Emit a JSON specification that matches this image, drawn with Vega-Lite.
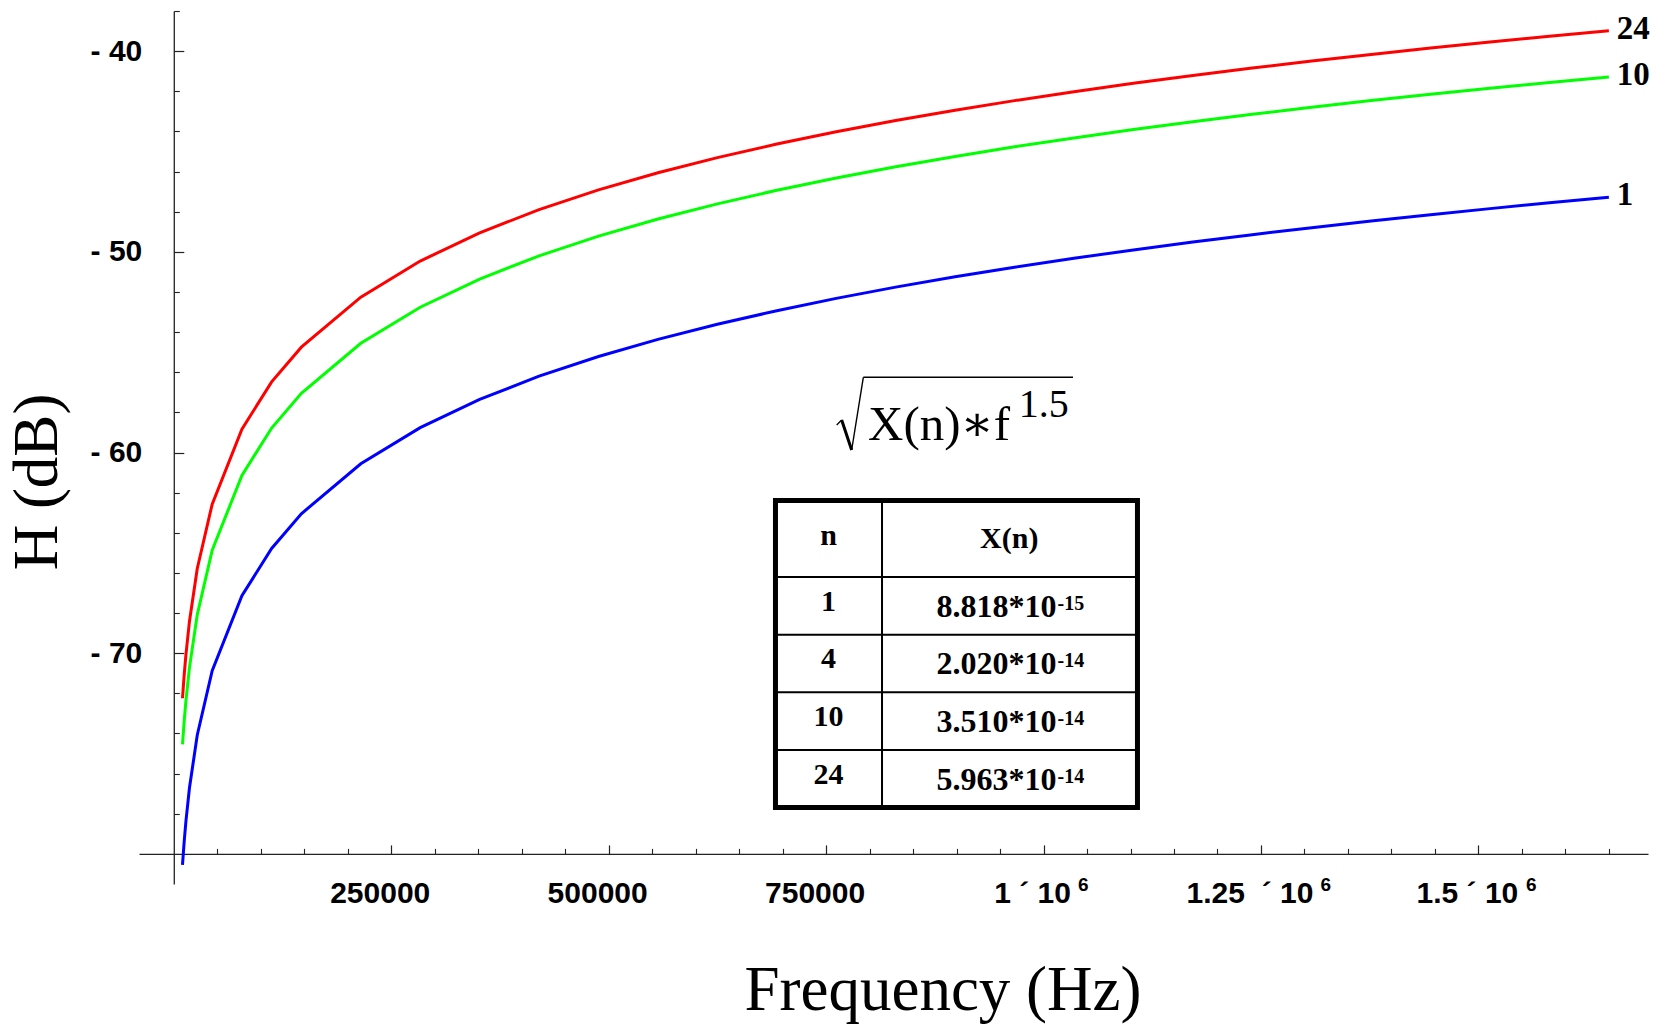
{
  "$schema": "https://vega.github.io/schema/vega-lite/v6.json",
  "width": 1509,
  "height": 873,
  "autosize": {"type": "none"},
  "padding": {"left": 139, "top": 11, "right": 17, "bottom": 142},
  "background": "white",
  "config": {"view": {"stroke": null}, "axis": {"grid": false}},
  "datasets": {
    "curves": [
      {"n":"1","f":10000,"H":-80.546},{"n":"1","f":12000,"H":-79.358},{"n":"1","f":14000,"H":-78.354},{"n":"1","f":18000,"H":-76.717},{"n":"1","f":27000,"H":-74.076},{"n":"1","f":44167,"H":-70.870},{"n":"1","f":78333,"H":-67.137},{"n":"1","f":112500,"H":-64.779},{"n":"1","f":146667,"H":-63.051},{"n":"1","f":215000,"H":-60.559},{"n":"1","f":283333,"H":-58.761},{"n":"1","f":351667,"H":-57.354},{"n":"1","f":420000,"H":-56.197},{"n":"1","f":488333,"H":-55.215},{"n":"1","f":556667,"H":-54.362},{"n":"1","f":625000,"H":-53.608},{"n":"1","f":693333,"H":-52.932},{"n":"1","f":761667,"H":-52.320},{"n":"1","f":830000,"H":-51.760},{"n":"1","f":898333,"H":-51.244},{"n":"1","f":966667,"H":-50.767},{"n":"1","f":1035000,"H":-50.322},{"n":"1","f":1103333,"H":-49.905},{"n":"1","f":1171667,"H":-49.514},{"n":"1","f":1240000,"H":-49.145},{"n":"1","f":1308333,"H":-48.795},{"n":"1","f":1376667,"H":-48.464},{"n":"1","f":1445000,"H":-48.148},{"n":"1","f":1513333,"H":-47.847},{"n":"1","f":1581667,"H":-47.559},{"n":"1","f":1650000,"H":-47.284},
      {"n":"10","f":10000,"H":-74.547},{"n":"10","f":12000,"H":-73.359},{"n":"10","f":14000,"H":-72.355},{"n":"10","f":18000,"H":-70.718},{"n":"10","f":27000,"H":-68.077},{"n":"10","f":44167,"H":-64.871},{"n":"10","f":78333,"H":-61.138},{"n":"10","f":112500,"H":-58.780},{"n":"10","f":146667,"H":-57.052},{"n":"10","f":215000,"H":-54.560},{"n":"10","f":283333,"H":-52.762},{"n":"10","f":351667,"H":-51.355},{"n":"10","f":420000,"H":-50.198},{"n":"10","f":488333,"H":-49.216},{"n":"10","f":556667,"H":-48.363},{"n":"10","f":625000,"H":-47.609},{"n":"10","f":693333,"H":-46.933},{"n":"10","f":761667,"H":-46.321},{"n":"10","f":830000,"H":-45.761},{"n":"10","f":898333,"H":-45.245},{"n":"10","f":966667,"H":-44.768},{"n":"10","f":1035000,"H":-44.323},{"n":"10","f":1103333,"H":-43.906},{"n":"10","f":1171667,"H":-43.515},{"n":"10","f":1240000,"H":-43.146},{"n":"10","f":1308333,"H":-42.796},{"n":"10","f":1376667,"H":-42.465},{"n":"10","f":1445000,"H":-42.149},{"n":"10","f":1513333,"H":-41.848},{"n":"10","f":1581667,"H":-41.560},{"n":"10","f":1650000,"H":-41.285},
      {"n":"24","f":10000,"H":-72.245},{"n":"24","f":12000,"H":-71.057},{"n":"24","f":14000,"H":-70.053},{"n":"24","f":18000,"H":-68.416},{"n":"24","f":27000,"H":-65.775},{"n":"24","f":44167,"H":-62.569},{"n":"24","f":78333,"H":-58.836},{"n":"24","f":112500,"H":-56.478},{"n":"24","f":146667,"H":-54.750},{"n":"24","f":215000,"H":-52.258},{"n":"24","f":283333,"H":-50.460},{"n":"24","f":351667,"H":-49.053},{"n":"24","f":420000,"H":-47.896},{"n":"24","f":488333,"H":-46.914},{"n":"24","f":556667,"H":-46.061},{"n":"24","f":625000,"H":-45.307},{"n":"24","f":693333,"H":-44.631},{"n":"24","f":761667,"H":-44.019},{"n":"24","f":830000,"H":-43.459},{"n":"24","f":898333,"H":-42.943},{"n":"24","f":966667,"H":-42.466},{"n":"24","f":1035000,"H":-42.021},{"n":"24","f":1103333,"H":-41.604},{"n":"24","f":1171667,"H":-41.213},{"n":"24","f":1240000,"H":-40.844},{"n":"24","f":1308333,"H":-40.494},{"n":"24","f":1376667,"H":-40.163},{"n":"24","f":1445000,"H":-39.847},{"n":"24","f":1513333,"H":-39.546},{"n":"24","f":1581667,"H":-39.258},{"n":"24","f":1650000,"H":-38.983}
    ],
    "table": [
      {"n":"1","xn":"8.818*10","e":"-15"},
      {"n":"4","xn":"2.020*10","e":"-14"},
      {"n":"10","xn":"3.510*10","e":"-14"},
      {"n":"24","xn":"5.963*10","e":"-14"}
    ]
  },
  "layer": [
    {
      "data": {"name": "curves"},
      "layer": [
        {
          "mark": {"type": "line", "strokeWidth": 3},
          "encoding": {
            "x": {"field": "f", "type": "quantitative",
              "scale": {"domain": [-40000, 1695000], "nice": false, "zero": false},
              "axis": {"orient": "bottom", "offset": -30.1, "values": [250000, 500000, 750000, 1000000, 1250000, 1500000],
                "labelExpr": "datum.value == 1000000 ? '1 ´ 10' : datum.value == 1250000 ? '1.25\u00a0 ´ 10' : datum.value == 1500000 ? '1.5 ´ 10' : format(datum.value, 'd')",
                "labelOffset": -11.5,
                "ticks": false, "domain": true, "domainColor": "#222", "domainWidth": 1.3,
                "labelFont": "Liberation Sans", "labelFontWeight": "bold", "labelFontSize": 30, "labelColor": "black",
                "labelPadding": 25, "labelOverlap": false, "labelFlush": false, "labelBound": false,
                "title": "Frequency (Hz)", "titleFont": "Liberation Serif", "titleFontWeight": "normal", "titleFontSize": 63, "titleColor": "black",
                "titleX": 803.5, "titleY": 155.8, "titleAlign": "center", "titleBaseline": "alphabetic", "titleAnchor": null}},
            "y": {"field": "H", "type": "quantitative",
              "scale": {"domain": [-81.5, -38], "nice": false, "zero": false},
              "axis": {"orient": "left", "offset": -34.79, "values": [-40, -50, -60, -70],
                "labelExpr": "'- ' + format(abs(datum.value), 'd')",
                "ticks": false, "domain": true, "domainColor": "#222", "domainWidth": 1.3,
                "labelFont": "Liberation Sans", "labelFontWeight": "bold", "labelFontSize": 30, "labelColor": "black",
                "labelAlign": "right", "labelBaseline": "middle", "labelPadding": 32, "labelOverlap": false, "labelFlush": false, "labelBound": false,
                "title": "H (dB)", "titleFont": "Liberation Serif", "titleFontWeight": "normal", "titleFontSize": 63, "titleColor": "black",
                "titleX": -116.8, "titleY": 470.5, "titleAngle": 270, "titleAlign": "center", "titleBaseline": "alphabetic", "titleAnchor": null}},
            "color": {"field": "n", "type": "nominal",
              "scale": {"domain": ["24", "10", "1"], "range": ["#ff0000", "#00ff00", "#0000ff"]}, "legend": null}
          }
        },
        {
          "transform": [{"filter": "datum.f == 1650000"}],
          "mark": {"type": "text", "font": "Liberation Serif", "fontWeight": "bold", "fontSize": 33, "align": "left", "baseline": "middle", "dx": 8, "dy": -2, "color": "black"},
          "encoding": {
            "x": {"field": "f", "type": "quantitative",
              "axis": {"orient": "bottom", "offset": -30.1, "values": [250000, 500000, 750000, 1000000, 1250000, 1500000],
                "labels": false, "domain": false, "ticks": true, "tickSize": -9, "tickColor": "#222", "tickWidth": 1.2, "title": null}},
            "y": {"field": "H", "type": "quantitative",
              "axis": {"orient": "left", "offset": -34.79, "values": [-40, -50, -60, -70],
                "labels": false, "domain": false, "ticks": true, "tickSize": -10, "tickColor": "#222", "tickWidth": 1.2, "title": null}},
            "text": {"field": "n"}
          }
        },
        {
          "data": {"values": [{}]},
          "mark": {"type": "rect", "filled": false, "stroke": "black", "strokeWidth": 5},
          "encoding": {
            "x": {"datum": 691800, "type": "quantitative",
              "axis": {"orient": "bottom", "offset": -30.1,
                "values": [50000, 100000, 150000, 200000, 300000, 350000, 400000, 450000, 550000, 600000, 650000, 700000, 800000, 850000, 900000, 950000, 1050000, 1100000, 1150000, 1200000, 1300000, 1350000, 1400000, 1450000, 1550000, 1600000, 1650000],
                "labels": false, "domain": false, "ticks": true, "tickSize": -5.5, "tickColor": "#222", "tickWidth": 1.1, "title": null}},
            "x2": {"datum": 1108000},
            "y": {"datum": -62.391, "type": "quantitative",
              "axis": {"orient": "left", "offset": -34.79,
                "values": [-38, -42, -44, -46, -48, -52, -54, -56, -58, -62, -64, -66, -68, -72, -74, -76, -78],
                "labels": false, "domain": false, "ticks": true, "tickSize": -5.5, "tickColor": "#222", "tickWidth": 1.1, "title": null}},
            "y2": {"datum": -77.688}
          }
        },
        {
          "data": {"values": [{}]},
          "mark": {"type": "rule", "color": "black", "strokeWidth": 2},
          "encoding": {
            "x": {"datum": 814300, "type": "quantitative",
              "axis": {"orient": "bottom", "offset": -30.1, "values": [1000000, 1250000, 1500000],
                "labelExpr": "'6'", "ticks": false, "domain": false,
                "labelFont": "Liberation Sans", "labelFontWeight": "bold", "labelFontSize": 19, "labelColor": "black",
                "labelAlign": "left", "labelPadding": 22,
                "labelOffset": {"condition": [{"test": "datum.value == 1000000", "value": 34}, {"test": "datum.value == 1250000", "value": 59}], "value": 47},
                "labelOverlap": false, "labelFlush": false, "labelBound": false, "title": null}},
            "y": {"datum": -62.391, "type": "quantitative", "axis": null},
            "y2": {"datum": -77.688}
          }
        },
        {
          "data": {"values": [{}]},
          "mark": {"type": "text", "text": "n", "font": "Liberation Serif", "fontWeight": "bold", "fontSize": 30, "align": "center", "baseline": "alphabetic", "color": "black"},
          "encoding": {
            "x": {"datum": 752800, "type": "quantitative", "axis": null},
            "y": {"datum": -64.608, "type": "quantitative", "axis": null}
          }
        },
        {
          "data": {"values": [{}]},
          "mark": {"type": "text", "text": "X(n)", "font": "Liberation Serif", "fontWeight": "bold", "fontSize": 30, "align": "center", "baseline": "alphabetic", "color": "black"},
          "encoding": {
            "x": {"datum": 960600, "type": "quantitative", "axis": null},
            "y": {"datum": -64.758, "type": "quantitative", "axis": null}
          }
        },
        {
          "data": {"values": [{}]},
          "mark": {"type": "text", "text": "X(n)∗f", "font": "Liberation Serif, DejaVu Serif", "fontSize": 49, "align": "left", "baseline": "alphabetic", "color": "black"},
          "encoding": {
            "x": {"datum": 798200, "type": "quantitative", "axis": null},
            "y": {"datum": -59.376, "type": "quantitative", "axis": null}
          }
        },
        {
          "data": {"values": [{}]},
          "mark": {"type": "text", "text": "1.5", "font": "Liberation Serif", "fontSize": 40, "align": "left", "baseline": "alphabetic", "dx": 2, "color": "black"},
          "encoding": {
            "x": {"datum": 969100, "type": "quantitative", "axis": null},
            "y": {"datum": -58.215, "type": "quantitative", "axis": null}
          }
        },
        {
          "data": {"values": [{}]},
          "mark": {"type": "rule", "color": "black", "strokeWidth": 1.3},
          "encoding": {
            "x": {"datum": 762200, "type": "quantitative", "axis": null},
            "y": {"datum": -58.629, "type": "quantitative", "axis": null},
            "x2": {"datum": 767900},
            "y2": {"datum": -58.380}
          }
        },
        {
          "data": {"values": [{}]},
          "mark": {"type": "rule", "color": "black", "strokeWidth": 3},
          "encoding": {
            "x": {"datum": 767900, "type": "quantitative", "axis": null},
            "y": {"datum": -58.380, "type": "quantitative", "axis": null},
            "x2": {"datum": 779400},
            "y2": {"datum": -59.875}
          }
        },
        {
          "data": {"values": [{}]},
          "mark": {"type": "rule", "color": "black", "strokeWidth": 1.4},
          "encoding": {
            "x": {"datum": 779400, "type": "quantitative", "axis": null},
            "y": {"datum": -59.875, "type": "quantitative", "axis": null},
            "x2": {"datum": 792800},
            "y2": {"datum": -56.252}
          }
        },
        {
          "data": {"values": [{}]},
          "mark": {"type": "rule", "color": "black", "strokeWidth": 1.4},
          "encoding": {
            "x": {"datum": 792800, "type": "quantitative", "axis": null},
            "y": {"datum": -56.252, "type": "quantitative", "axis": null},
            "x2": {"datum": 1033900},
            "y2": {"datum": -56.252}
          }
        }
      ],
      "resolve": {"axis": {"x": "independent", "y": "independent"}}
    },
    {
      "data": {"name": "table"},
      "layer": [
        {
          "mark": {"type": "rule", "color": "black", "strokeWidth": 2},
          "encoding": {
            "y": {"field": "n", "type": "ordinal", "bandPosition": 0,
              "scale": {"type": "band", "domain": ["1", "4", "10", "24"], "range": [566, 796.5], "paddingInner": 0, "paddingOuter": 0},
              "axis": null},
            "x": {"datum": 691800, "type": "quantitative", "axis": null},
            "x2": {"datum": 1108000}
          }
        },
        {
          "mark": {"type": "text", "font": "Liberation Serif", "fontWeight": "bold", "fontSize": 30, "align": "center", "baseline": "alphabetic", "dy": 5, "color": "black"},
          "encoding": {
            "y": {"field": "n", "type": "ordinal", "axis": null},
            "x": {"datum": 752800, "type": "quantitative", "axis": null},
            "text": {"field": "n"}
          }
        },
        {
          "mark": {"type": "text", "font": "Liberation Serif", "fontWeight": "bold", "fontSize": 32, "align": "right", "baseline": "alphabetic", "dy": 11, "color": "black"},
          "encoding": {
            "y": {"field": "n", "type": "ordinal", "axis": null},
            "x": {"datum": 1014900, "type": "quantitative", "axis": null},
            "text": {"field": "xn"}
          }
        },
        {
          "mark": {"type": "text", "font": "Liberation Serif", "fontWeight": "bold", "fontSize": 20, "align": "left", "baseline": "alphabetic", "dx": 1, "dy": 4, "color": "black"},
          "encoding": {
            "y": {"field": "n", "type": "ordinal", "axis": null},
            "x": {"datum": 1014900, "type": "quantitative", "axis": null},
            "text": {"field": "e"}
          }
        }
      ]
    }
  ],
  "resolve": {"scale": {"y": "independent"}, "axis": {"x": "independent", "y": "independent"}}
}
